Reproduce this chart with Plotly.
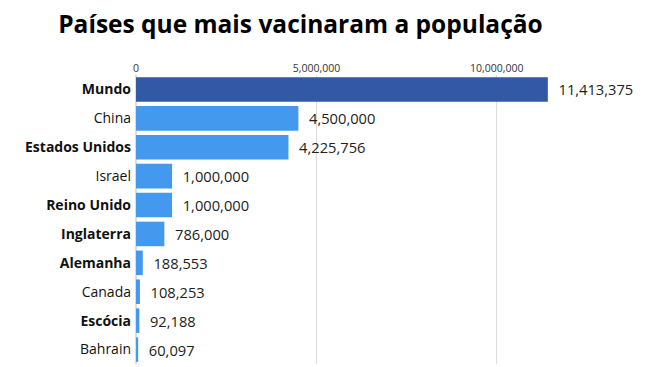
import plotly.graph_objects as go

countries = ["Mundo", "China", "Estados Unidos", "Israel", "Reino Unido",
             "Inglaterra", "Alemanha", "Canada", "Escócia", "Bahrain"]
values = [11413375, 4500000, 4225756, 1000000, 1000000,
          786000, 188553, 108253, 92188, 60097]
bold = [True, False, True, False, True, True, True, False, True, False]
tick_vals = [0, 5000000, 10000000]
tick_text = ["0", "5,000,000", "10,000,000"]

colors = ["#3159a6" if c == "Mundo" else "#4399ee" for c in countries]
labels = [f"<b>{c}</b>" if b else c for c, b in zip(countries, bold)]

fig = go.Figure(go.Bar(
    x=values, y=labels, orientation="h",
    marker=dict(color=colors, line=dict(width=0)),
    text=["\u00a0\u00a0" + f"{v:,}" for v in values], textposition="outside",
    textfont=dict(size=14.7, color="#222222", family="Open Sans"),
    cliponaxis=False,
))

fig.update_layout(
    width=644, height=359,
    margin=dict(l=128, r=0, t=67, b=3, autoexpand=False),
    plot_bgcolor="white", paper_bgcolor="white",
    bargap=0.15,
    title=dict(text="<b>Países que mais vacinaram a população</b>",
               font=dict(family="Open Sans", size=24.5, color="black"),
               x=0.078, xanchor="left", y=0.955, yanchor="middle"),
    showlegend=False,
)
fig.update_xaxes(side="top", range=[0, 14300000], tickvals=tick_vals, ticktext=tick_text,
                 showgrid=True, gridcolor="#dddddd", gridwidth=1,
                 zeroline=True, zerolinecolor="#dddddd", automargin=False,
                 tickfont=dict(size=10.5, color="#333333", family="Open Sans"), ticks="")
fig.update_yaxes(autorange="reversed", automargin=False,
                 tickfont=dict(size=14, color="#111111", family="Open Sans"),
                 ticks="", ticklabelstandoff=4)

fig.write_html("out.html")
